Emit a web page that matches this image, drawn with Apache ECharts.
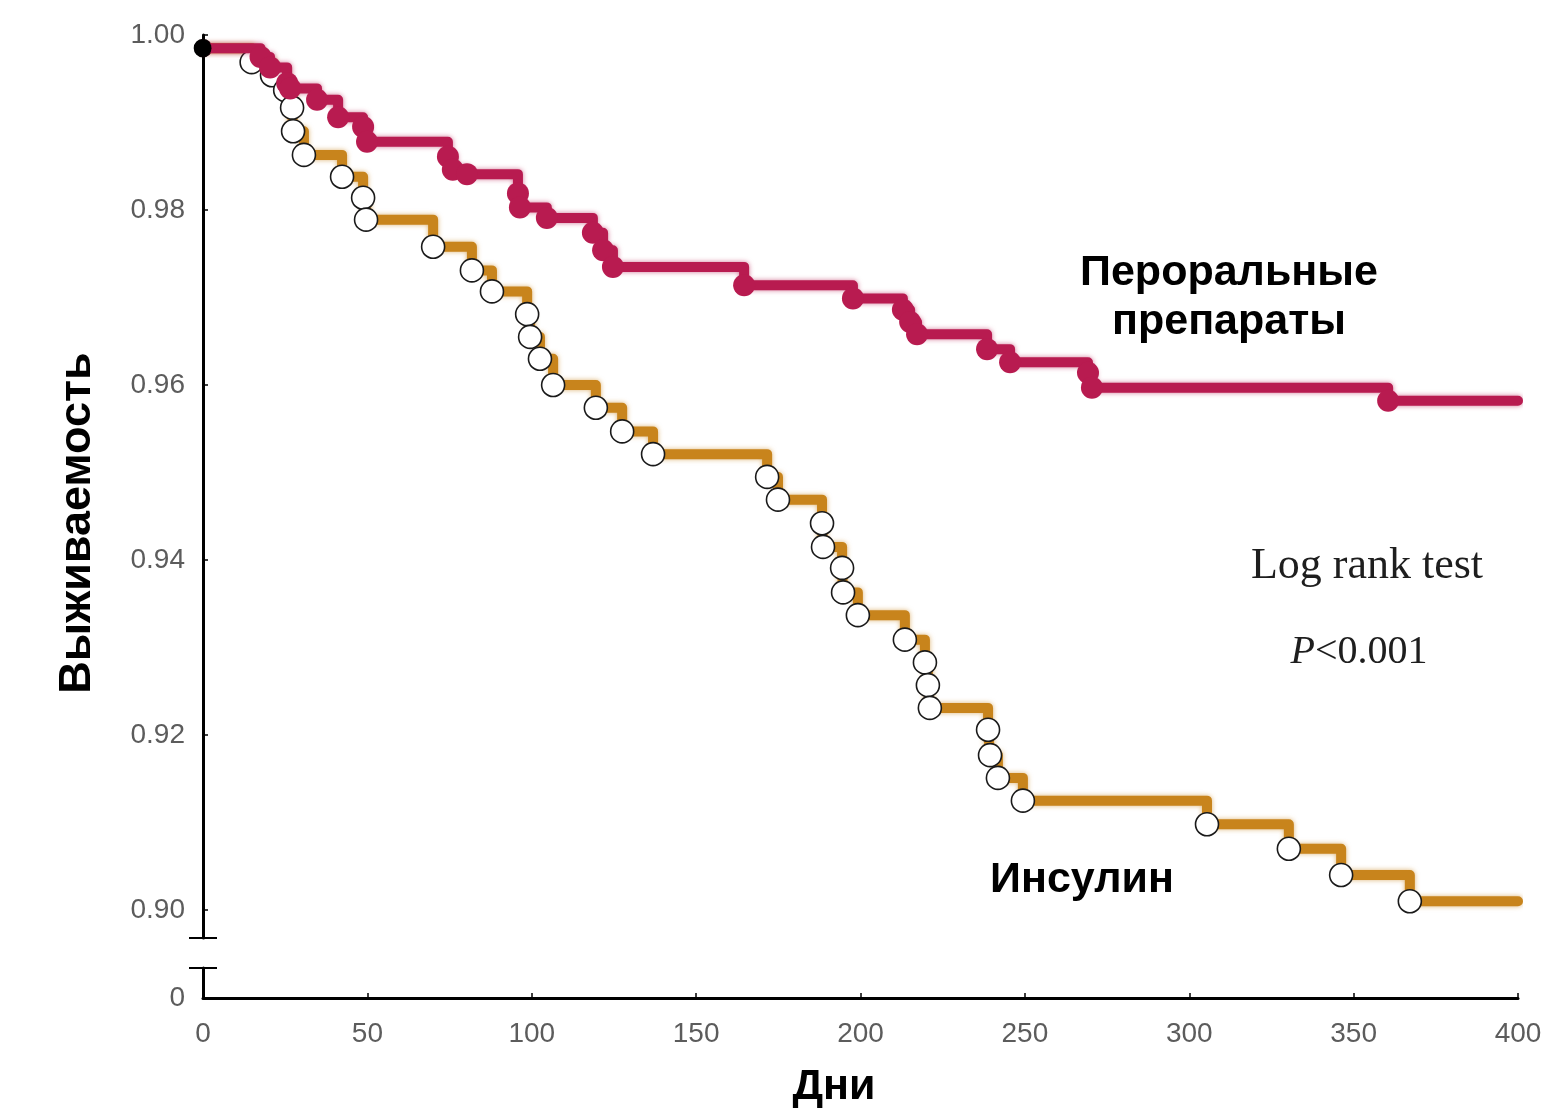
<!DOCTYPE html>
<html>
<head>
<meta charset="utf-8">
<title>Выживаемость</title>
<script src="https://cdn.jsdelivr.net/npm/echarts@6/dist/echarts.min.js"></script>
<style>
  html, body { margin: 0; padding: 0; background: #fff; }
  #chart { width: 1546px; height: 1113px; }
</style>
</head>
<body>
<div id="chart"></div>
<script>
// Kaplan–Meier curves: day of event and survival right after it
const ORAL_DAYS = [0, 17.5, 20.4, 25.6, 26.5, 34.7, 41.1, 48.7, 49.9, 74.5, 76.0, 80.3, 95.8, 96.4, 104.6,
  118.6, 121.7, 124.7, 164.6, 197.7, 212.9, 215.1, 217.2, 238.5, 245.5, 269.2, 270.4, 360.5, 400];
const ORAL_SURV = [0.9985, 0.9975, 0.9963, 0.9945, 0.9939, 0.9926, 0.9906, 0.9895, 0.9878, 0.9861, 0.9846, 0.9841, 0.9819, 0.9803, 0.9791,
  0.9774, 0.9754, 0.9735, 0.9714, 0.9699, 0.9686, 0.9672, 0.9658, 0.9641, 0.9626, 0.9614, 0.9597, 0.9582, 0.9582];

const INSULIN_DAYS = [0, 14.8, 21.0, 25.0, 27.1, 27.4, 30.7, 42.3, 48.7, 49.6, 70.0, 81.8, 87.9, 98.6, 99.5,
  102.5, 106.5, 119.5, 127.5, 136.9, 171.6, 174.9, 188.3, 188.6, 194.4, 194.7, 199.2, 213.5, 219.6, 220.5,
  221.1, 238.8, 239.4, 241.8, 249.4, 305.4, 330.3, 346.2, 367.1, 400];
const INSULIN_SURV = [0.9985, 0.9969, 0.9954, 0.9937, 0.9917, 0.9890, 0.9863, 0.9838, 0.9814, 0.9789, 0.9758, 0.9731, 0.9707, 0.9681, 0.9655,
  0.9630, 0.9600, 0.9574, 0.9547, 0.9521, 0.9495, 0.9469, 0.9442, 0.9415, 0.9391, 0.9363, 0.9337, 0.9309, 0.9283, 0.9257,
  0.9231, 0.9206, 0.9177, 0.9151, 0.9125, 0.9098, 0.9070, 0.9040, 0.9010, 0.9010];

const Y_TICKS = [0.90, 0.92, 0.94, 0.96, 0.98, 1.00];
const Y_LOW_TICKS = [0];
const X_MIN = 0, X_MAX = 400, X_STEP = 50;
const Y_MIN = 0.8968, Y_MAX = 1.0;

const ORAL_COLOR = '#b81b50';
const INSULIN_COLOR = '#c8841c';
const LABEL_COLOR = '#5c5c5c';

// Points: the first one (day 0) is drawn black, the last one only closes the line
function toPoints(days, surv, lastHidden) {
  return days.map((d, i) => {
    const item = { value: [d, surv[i]] };
    if (i === 0) {
      item.itemStyle = { color: '#000', borderColor: '#000' };
      item.symbolSize = 17;
    }
    if (lastHidden && i === days.length - 1) item.symbol = 'none';
    return item;
  });
}

const chart = echarts.init(document.getElementById('chart'), null, { renderer: 'canvas' });

const axisLineStyle = { color: '#000', width: 3 };
const tickFont = 'Liberation Sans, Arial, sans-serif';

chart.setOption({
  animation: false,
  backgroundColor: '#fff',
  grid: [
    { left: 203, top: 35, width: 1315, height: 903 },
    { left: 203, top: 968, width: 1315, height: 30 }
  ],
  xAxis: [
    { gridIndex: 0, type: 'value', min: X_MIN, max: X_MAX, show: false },
    {
      gridIndex: 1, type: 'value', min: X_MIN, max: X_MAX, interval: X_STEP,
      axisLine: { show: true, onZero: false, lineStyle: axisLineStyle },
      axisTick: { show: true, inside: true, length: 5, lineStyle: { color: '#000', width: 1.5 } },
      axisLabel: { color: LABEL_COLOR, fontSize: 28, fontFamily: tickFont, margin: 22 },
      splitLine: { show: false }
    }
  ],
  yAxis: [
    {
      gridIndex: 0, type: 'value', min: Y_MIN, max: Y_MAX,
      axisLine: { show: true, lineStyle: axisLineStyle },
      axisTick: { show: true, inside: true, length: 5, customValues: Y_TICKS, lineStyle: { color: '#000', width: 1.5 } },
      axisLabel: {
        customValues: Y_TICKS, color: LABEL_COLOR, fontSize: 28,
        fontFamily: tickFont, margin: 18,
        formatter: v => v.toFixed(2)
      },
      splitLine: { show: false }
    },
    {
      gridIndex: 1, type: 'value', min: 0, max: 1,
      axisLine: { show: true, lineStyle: axisLineStyle },
      axisTick: { show: false },
      axisLabel: {
        customValues: Y_LOW_TICKS, color: LABEL_COLOR, fontSize: 28,
        fontFamily: tickFont, margin: 18,
        formatter: v => String(v)
      },
      splitLine: { show: false }
    }
  ],
  series: [
    {
      name: 'Инсулин',
      type: 'line', step: 'end', xAxisIndex: 0, yAxisIndex: 0,
      data: toPoints(INSULIN_DAYS, INSULIN_SURV, true),
      symbol: 'circle', symbolSize: 23,
      itemStyle: { color: '#fff', borderColor: '#1a1a1a', borderWidth: 1.6 },
      lineStyle: { color: INSULIN_COLOR, width: 10, cap: 'round', join: 'round',
                   shadowBlur: 5, shadowColor: 'rgba(200,132,28,0.6)' },
      z: 2
    },
    {
      name: 'Пероральные препараты',
      type: 'line', step: 'end', xAxisIndex: 0, yAxisIndex: 0,
      data: toPoints(ORAL_DAYS, ORAL_SURV, true),
      symbol: 'circle', symbolSize: 22,
      itemStyle: { color: ORAL_COLOR, borderColor: ORAL_COLOR, borderWidth: 0 },
      lineStyle: { color: ORAL_COLOR, width: 10, cap: 'round', join: 'round',
                   shadowBlur: 5, shadowColor: 'rgba(184,27,80,0.6)' },
      z: 3
    }
  ]
});

// Axis break caps and annotation texts
const breakTop = chart.convertToPixel({ gridIndex: 0 }, [X_MIN, Y_MIN]);
const breakBottom = chart.convertToPixel({ gridIndex: 1 }, [X_MIN, 1]);
const capHalf = 14;
const boldFont = 'bold 43px "Liberation Sans", Arial, sans-serif';

chart.setOption({
  graphic: [
    { type: 'line', shape: { x1: breakTop[0] - capHalf, y1: breakTop[1], x2: breakTop[0] + capHalf, y2: breakTop[1] },
      style: { stroke: '#000', lineWidth: 2 }, z: 10 },
    { type: 'line', shape: { x1: breakBottom[0] - capHalf, y1: breakBottom[1], x2: breakBottom[0] + capHalf, y2: breakBottom[1] },
      style: { stroke: '#000', lineWidth: 2 }, z: 10 },
    { type: 'text', x: 78, y: 523, rotation: Math.PI / 2,
      style: { text: 'Выживаемость', font: 'bold 45px "Liberation Sans", Arial, sans-serif', fill: '#000', align: 'center', verticalAlign: 'middle' } },
    { type: 'text', x: 834, y: 1087,
      style: { text: 'Дни', font: boldFont, fill: '#000', align: 'center', verticalAlign: 'middle' } },
    { type: 'text', x: 1229, y: 298,
      style: { text: 'Пероральные\nпрепараты', font: boldFont, lineHeight: 49, fill: '#000', align: 'center', verticalAlign: 'middle' } },
    { type: 'text', x: 1082, y: 880,
      style: { text: 'Инсулин', font: boldFont, fill: '#000', align: 'center', verticalAlign: 'middle' } },
    { type: 'text', x: 1367, y: 566,
      style: { text: 'Log rank test', font: '44px "Liberation Serif", "Times New Roman", serif', fill: '#1e1e1e', align: 'center', verticalAlign: 'middle' } },
    { type: 'text', x: 1359, y: 652,
      style: {
        text: '{i|P}{n|<0.001}', align: 'center', verticalAlign: 'middle',
        rich: {
          i: { font: 'italic 40px "Liberation Serif", "Times New Roman", serif', fill: '#1e1e1e' },
          n: { font: '40px "Liberation Serif", "Times New Roman", serif', fill: '#1e1e1e' }
        }
      } }
  ]
});
</script>
</body>
</html>
